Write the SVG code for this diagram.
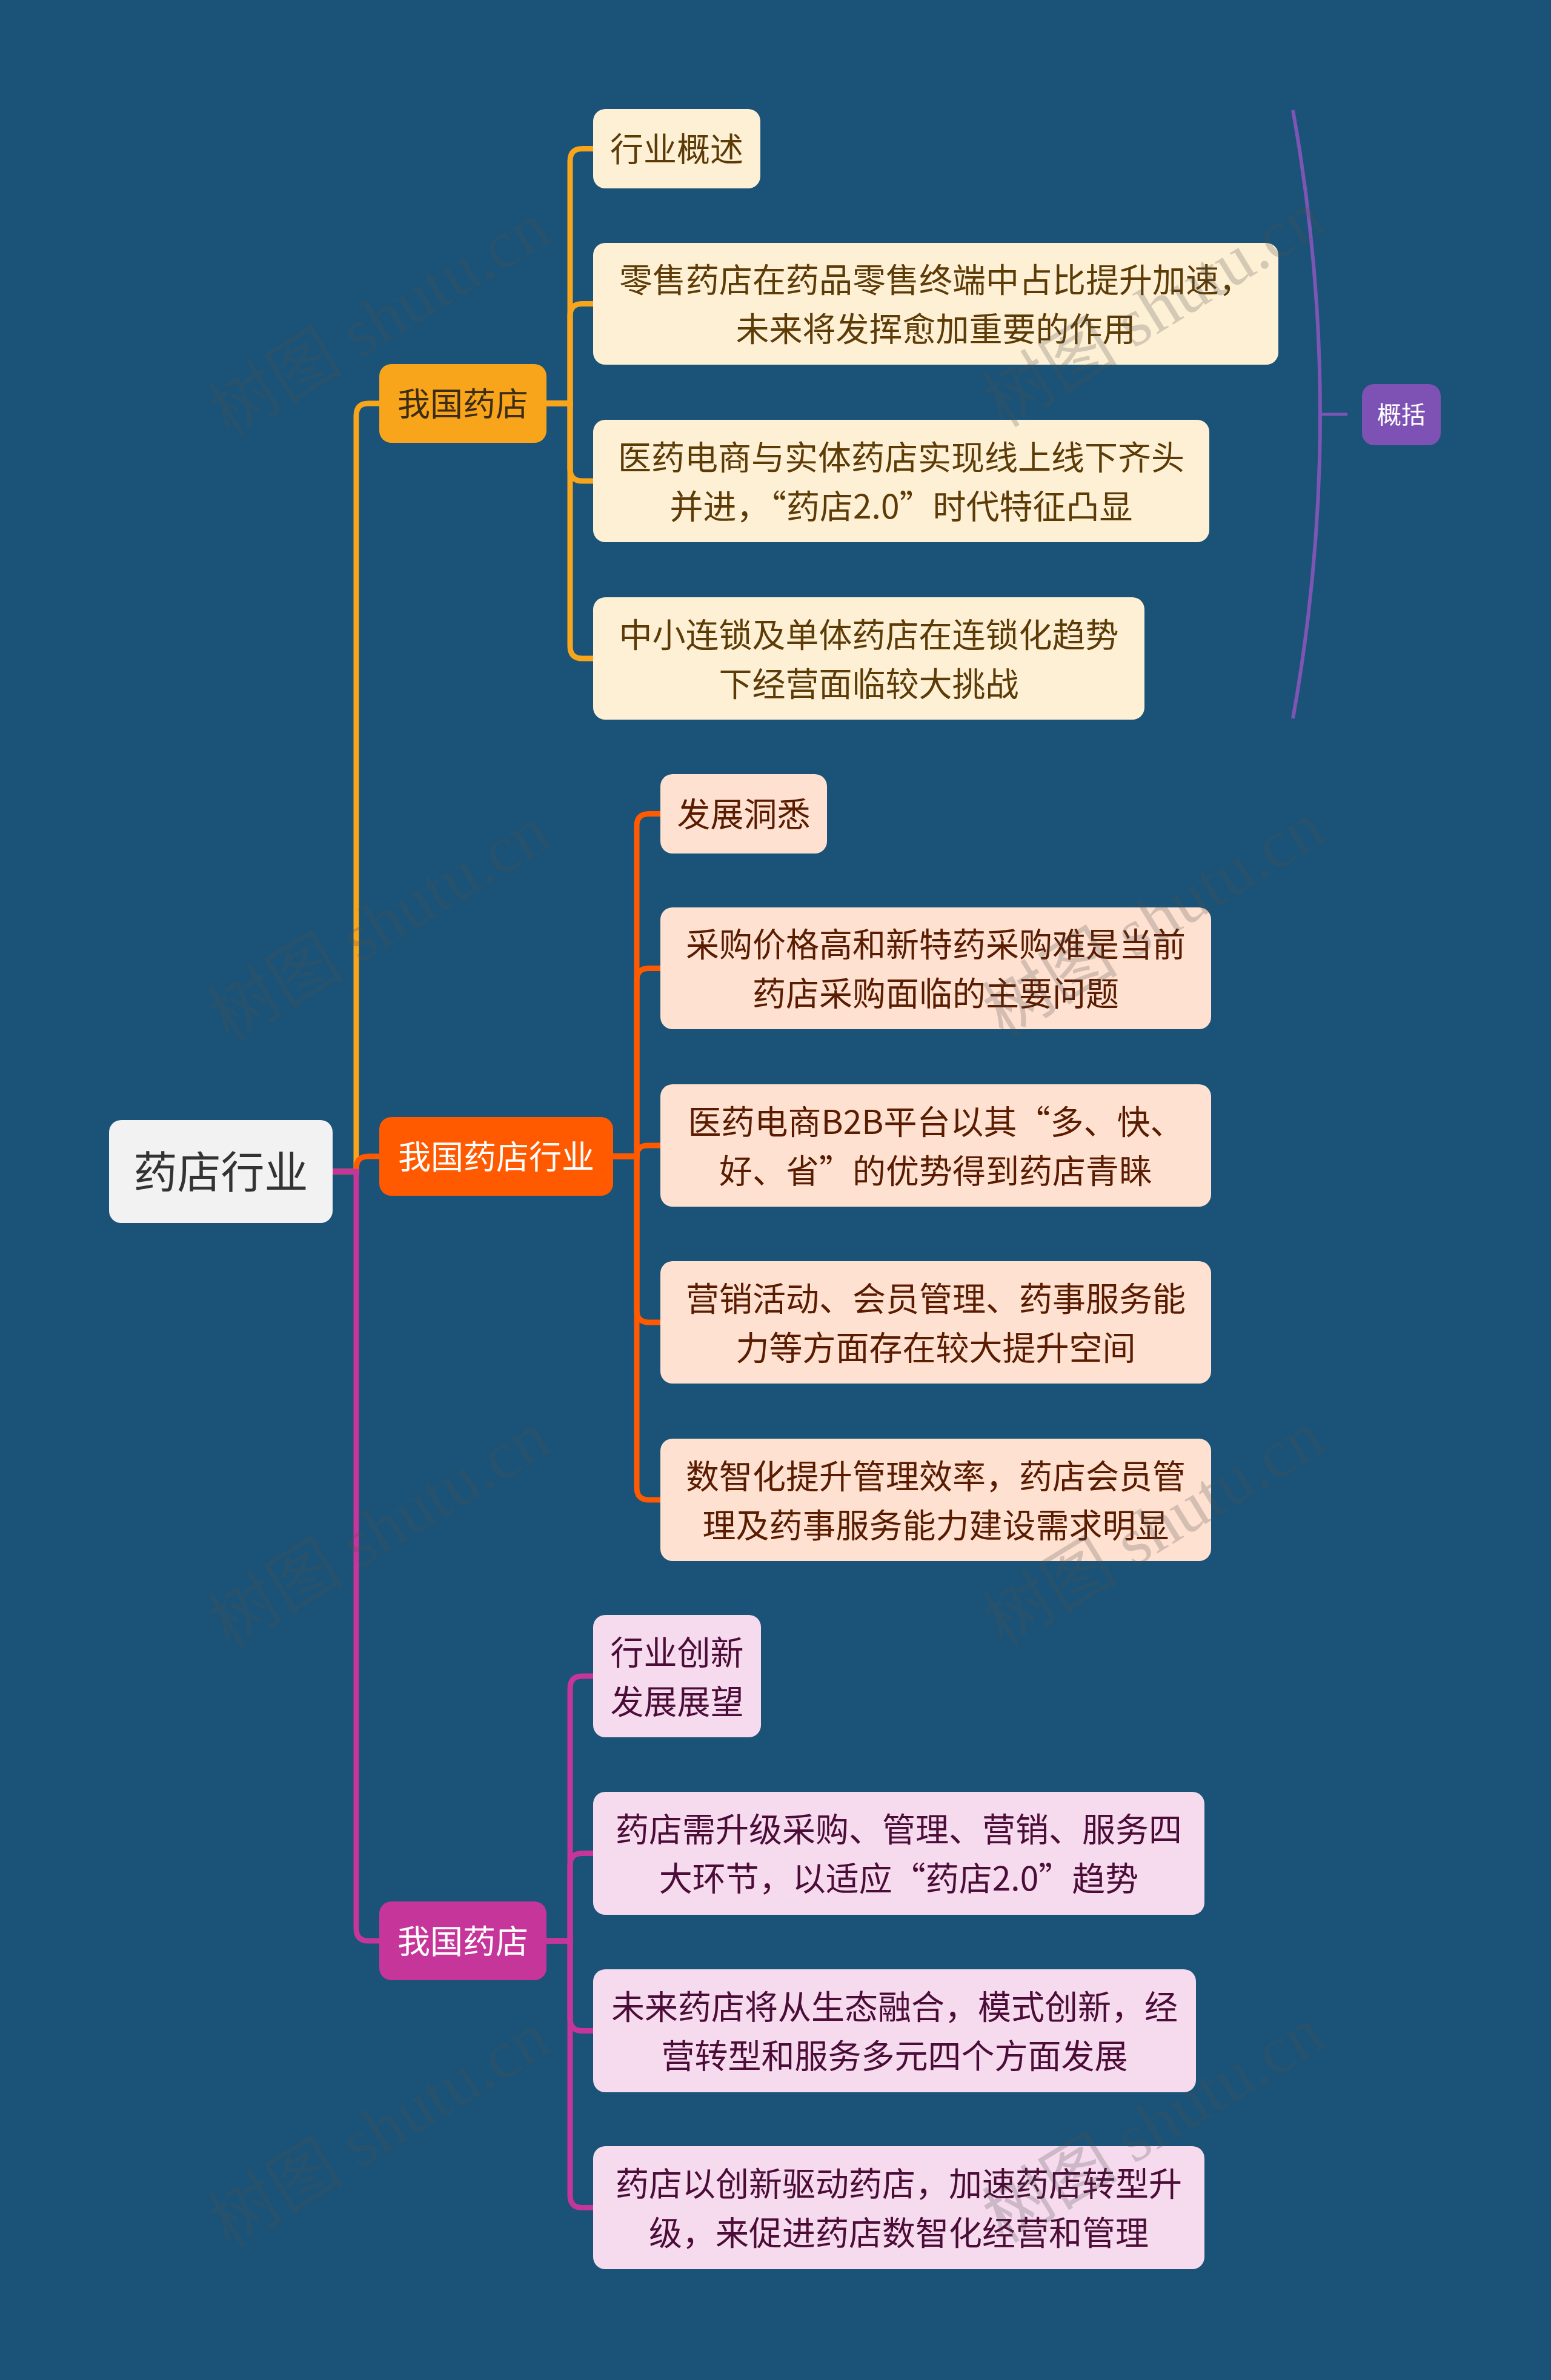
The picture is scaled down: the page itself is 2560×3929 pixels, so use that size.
<svg xmlns="http://www.w3.org/2000/svg" width="2560" height="3929" viewBox="0 0 2560 3929">
<style>
.t{font-family:"Noto Sans CJK SC","Noto Sans",sans-serif;text-anchor:middle;}
.c1 rect{fill:#FEF0D5;}
.c1 text{fill:#5C3B06;font-size:55px;}
.c2 rect{fill:#FFE1D1;}
.c2 text{fill:#5A1C00;font-size:55px;}
.c3 rect{fill:#F6DAEE;}
.c3 text{fill:#4B0C38;font-size:55px;}
.l1 text{font-size:54px;}
.cn{fill:none;stroke-width:9;}
.o{stroke:#F9A51B;}
.r{stroke:#FF5A00;}
.m{stroke:#C6359A;}
.wm{font-family:"Liberation Serif","Noto Sans CJK SC",serif;font-size:112px;fill:#505050;opacity:0.24;text-anchor:middle;}
</style>
<rect x="0" y="0" width="2560" height="3929" fill="#1A5377"/>
<g id="connectors">
<path class="cn o" d="M549,1934 H588 V686 Q588,666 608,666 H628"/>
<path class="cn r" d="M549,1934 H588 V1929 Q588,1909 608,1909 H628"/>
<path class="cn m" d="M549,1934 H588 V3184 Q588,3204 608,3204 H628"/>
<path class="cn o" d="M900,666 H941 V265.5 Q941,245.5 961,245.5 H981"/>
<path class="cn o" d="M900,666 H941 V521.5 Q941,501.5 961,501.5 H981"/>
<path class="cn o" d="M900,666 H941 V774 Q941,794 961,794 H981"/>
<path class="cn o" d="M900,666 H941 V1067 Q941,1087 961,1087 H981"/>
<path class="cn r" d="M1010,1909 H1051 V1363.5 Q1051,1343.5 1071,1343.5 H1092"/>
<path class="cn r" d="M1010,1909 H1051 V1618.5 Q1051,1598.5 1071,1598.5 H1092"/>
<path class="cn r" d="M1010,1909 H1051 Q1051,1891 1069,1891 H1092"/>
<path class="cn r" d="M1010,1909 H1051 V2163 Q1051,2183 1071,2183 H1092"/>
<path class="cn r" d="M1010,1909 H1051 V2456 Q1051,2476 1071,2476 H1092"/>
<path class="cn m" d="M900,3204 H941 V2787 Q941,2767 961,2767 H981"/>
<path class="cn m" d="M900,3204 H941 V3079.5 Q941,3059.5 961,3059.5 H981"/>
<path class="cn m" d="M900,3204 H941 V3332.5 Q941,3352.5 961,3352.5 H981"/>
<path class="cn m" d="M900,3204 H941 V3624.5 Q941,3644.5 961,3644.5 H981"/>
<path d="M2134,182 Q2224,684 2134,1186" fill="none" stroke="#7C55B5" stroke-width="6"/>
<path d="M2179,684 H2224" fill="none" stroke="#7C55B5" stroke-width="5"/>
</g>
<g id="root">
<rect x="180" y="1849" width="369" height="170" rx="20" fill="#F2F2F2"/>
<text class="t" x="364.5" y="1961" font-size="72" fill="#333333">药店行业</text>
</g>
<g id="n1" class="l1">
<rect x="626" y="601" width="276" height="130" rx="20" fill="#F9A51B"/>
<text class="t" x="764" y="686.5" fill="#3B2C14">我国药店</text>
</g>
<g id="n2" class="l1">
<rect x="626" y="1844" width="386" height="130" rx="20" fill="#FF5A00"/>
<text class="t" x="819" y="1929.5" fill="#FFFFFF">我国药店行业</text>
</g>
<g id="n3" class="l1">
<rect x="626" y="3139" width="276" height="130" rx="20" fill="#C6359A"/>
<text class="t" x="764" y="3224.5" fill="#FFFFFF">我国药店</text>
</g>
<g id="n1a" class="c1">
<rect x="979" y="180" width="276" height="131" rx="20"/>
<text class="t" x="1117" y="266">行业概述</text>
</g>
<g id="n1b" class="c1">
<rect x="979" y="401" width="1131" height="201" rx="20"/>
<text class="t"><tspan x="1544.5" y="482">零售药店在药品零售终端中占比提升加速，</tspan><tspan x="1544.5" y="563">未来将发挥愈加重要的作用</tspan></text>
</g>
<g id="n1c" class="c1">
<rect x="979" y="693" width="1017" height="202" rx="20"/>
<text class="t"><tspan x="1487.5" y="774.5">医药电商与实体药店实现线上线下齐头</tspan><tspan x="1487.5" y="855.5">并进，“药店2.0”时代特征凸显</tspan></text>
</g>
<g id="n1d" class="c1">
<rect x="979" y="986" width="910" height="202" rx="20"/>
<text class="t"><tspan x="1434" y="1067.5">中小连锁及单体药店在连锁化趋势</tspan><tspan x="1434" y="1148.5">下经营面临较大挑战</tspan></text>
</g>
<g id="sum">
<rect x="2248" y="634" width="130" height="101" rx="20" fill="#7D52B4"/>
<text class="t" x="2313" y="699" font-size="40" fill="#FFFFFF">概括</text>
</g>
<g id="n2a" class="c2">
<rect x="1090" y="1278" width="275" height="131" rx="20"/>
<text class="t" x="1227.5" y="1364">发展洞悉</text>
</g>
<g id="n2b" class="c2">
<rect x="1090" y="1498" width="909" height="201" rx="20"/>
<text class="t"><tspan x="1544.5" y="1579">采购价格高和新特药采购难是当前</tspan><tspan x="1544.5" y="1660">药店采购面临的主要问题</tspan></text>
</g>
<g id="n2c" class="c2">
<rect x="1090" y="1790" width="909" height="202" rx="20"/>
<text class="t"><tspan x="1544.5" y="1871.5">医药电商B2B平台以其“多、快、</tspan><tspan x="1544.5" y="1952.5">好、省”的优势得到药店青睐</tspan></text>
</g>
<g id="n2d" class="c2">
<rect x="1090" y="2082" width="909" height="202" rx="20"/>
<text class="t"><tspan x="1544.5" y="2163.5">营销活动、会员管理、药事服务能</tspan><tspan x="1544.5" y="2244.5">力等方面存在较大提升空间</tspan></text>
</g>
<g id="n2e" class="c2">
<rect x="1090" y="2375" width="909" height="202" rx="20"/>
<text class="t"><tspan x="1544.5" y="2456.5">数智化提升管理效率，药店会员管</tspan><tspan x="1544.5" y="2537.5">理及药事服务能力建设需求明显</tspan></text>
</g>
<g id="n3a" class="c3">
<rect x="979" y="2666" width="277" height="202" rx="20"/>
<text class="t"><tspan x="1117.5" y="2747.5">行业创新</tspan><tspan x="1117.5" y="2828.5">发展展望</tspan></text>
</g>
<g id="n3b" class="c3">
<rect x="979" y="2958" width="1009" height="203" rx="20"/>
<text class="t"><tspan x="1483.5" y="3040">药店需升级采购、管理、营销、服务四</tspan><tspan x="1483.5" y="3121">大环节，以适应“药店2.0”趋势</tspan></text>
</g>
<g id="n3c" class="c3">
<rect x="979" y="3251" width="995" height="203" rx="20"/>
<text class="t"><tspan x="1476.5" y="3333">未来药店将从生态融合，模式创新，经</tspan><tspan x="1476.5" y="3414">营转型和服务多元四个方面发展</tspan></text>
</g>
<g id="n3d" class="c3">
<rect x="979" y="3543" width="1009" height="203" rx="20"/>
<text class="t"><tspan x="1483.5" y="3625">药店以创新驱动药店，加速药店转型升</tspan><tspan x="1483.5" y="3706">级，来促进药店数智化经营和管理</tspan></text>
</g>
<g id="watermarks">
<text class="wm" transform="translate(646,560) rotate(-31.5)">树图 shutu.cn</text>
<text class="wm" transform="translate(1924,543) rotate(-31.5)">树图 shutu.cn</text>
<text class="wm" transform="translate(646,1558) rotate(-31.5)">树图 shutu.cn</text>
<text class="wm" transform="translate(1924,1550) rotate(-31.5)">树图 shutu.cn</text>
<text class="wm" transform="translate(646,2558) rotate(-31.5)">树图 shutu.cn</text>
<text class="wm" transform="translate(1924,2556) rotate(-31.5)">树图 shutu.cn</text>
<text class="wm" transform="translate(646,3548) rotate(-31.5)">树图 shutu.cn</text>
<text class="wm" transform="translate(1924,3540) rotate(-31.5)">树图 shutu.cn</text>
</g>
</svg>
